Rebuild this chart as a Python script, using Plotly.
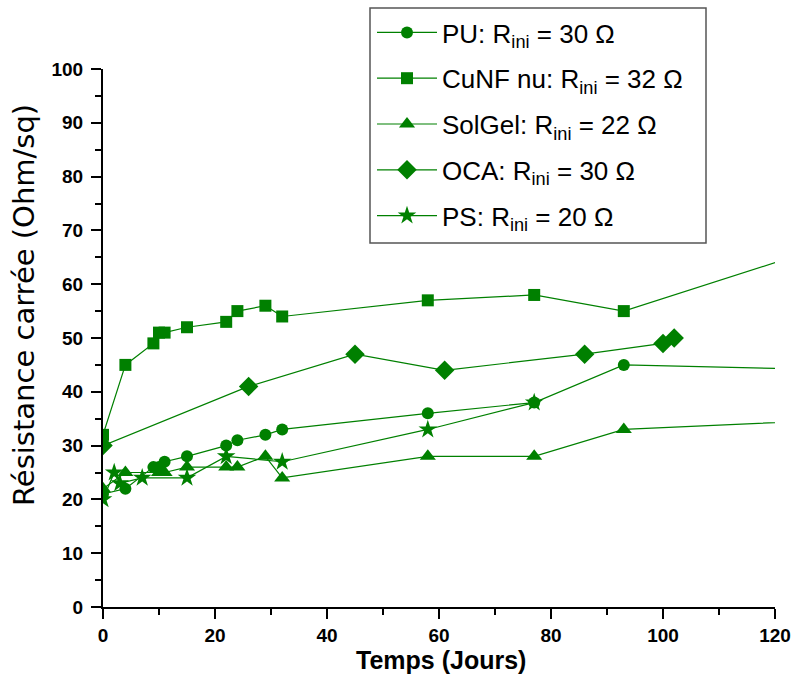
import plotly.graph_objects as go

# ---- data ----
pu_x = [0, 4, 9, 10, 11, 15, 22, 24, 29, 32, 58, 77, 93, 135]
pu_y = [21, 22, 26, 26, 27, 28, 30, 31, 32, 33, 36, 38, 45, 44]

cunf_x = [0, 4, 9, 10, 11, 15, 22, 24, 29, 32, 58, 77, 93, 135]
cunf_y = [32, 45, 49, 51, 51, 52, 53, 55, 56, 54, 57, 58, 55, 69]

solgel_x = [0, 4, 10, 11, 15, 22, 24, 29, 32, 58, 77, 93, 135]
solgel_y = [22, 25, 25, 25, 26, 26, 26, 28, 24, 28, 28, 33, 35]

oca_x = [0, 26, 45, 61, 86, 100, 102]
oca_y = [30, 41, 47, 44, 47, 49, 50]

ps_x = [0, 2, 3, 7, 15, 22, 32, 58, 77]
ps_y = [20, 25, 23, 24, 24, 28, 27, 33, 38]

names = [
    "PU: R<sub>ini</sub> = 30 Ω",
    "CuNF nu: R<sub>ini</sub> = 32 Ω",
    "SolGel: R<sub>ini</sub> = 22 Ω",
    "OCA: R<sub>ini</sub> = 30 Ω",
    "PS: R<sub>ini</sub> = 20 Ω",
]
x_ticks = [0, 20, 40, 60, 80, 100, 120]
y_ticks = [0, 10, 20, 30, 40, 50, 60, 70, 80, 90, 100]
x_title = "Temps (Jours)"
y_title = "Résistance carrée (Ohm/sq)"

GREEN = "#008000"
series = [
    (pu_x, pu_y, "circle", 12),
    (cunf_x, cunf_y, "square", 12),
    (solgel_x, solgel_y, "triangle-up", 14),
    (oca_x, oca_y, "diamond", 15),
    (ps_x, ps_y, "star", 14),
]

fig = go.Figure()
for (xs, ys, sym, sz), nm in zip(series, names):
    fig.add_trace(go.Scatter(
        x=xs, y=ys, mode="lines+markers", name=nm, legendgroup=nm,
        line=dict(color=GREEN, width=1.2),
        marker=dict(symbol=sym, size=sz, color=GREEN, line=dict(width=0)),
    ))

FONT = "Liberation Sans, Arial, sans-serif"
W, H = 796, 693
L, R, T, B = 103, 21, 69, 86
pw, ph = W - L - R, H - T - B

def px_x(p):
    return (p - L) / pw

def px_y(p):
    return (H - B - p) / ph

# legend frame (pixel box 370..706 x 8..243)
fig.add_shape(
    type="rect", xref="paper", yref="paper",
    x0=px_x(370), x1=px_x(706), y0=px_y(243), y1=px_y(8),
    line=dict(color="#555555", width=1.5), fillcolor="rgba(0,0,0,0)", layer="above",
)

# axis titles placed as in the reference
fig.add_annotation(
    text=y_title, textangle=-90, xref="paper", yref="paper",
    x=px_x(24), y=px_y(305), xanchor="center", yanchor="middle", showarrow=False,
    font=dict(size=29, family="DejaVu Sans", color="black"),
)
fig.add_annotation(
    text=x_title, xref="paper", yref="paper",
    x=px_x(441), y=px_y(660), xanchor="center", yanchor="middle", showarrow=False,
    font=dict(size=25, family=FONT, color="black", weight="bold"),
)

fig.update_layout(
    width=W, height=H,
    margin=dict(l=L, r=R, t=T, b=B, autoexpand=False),
    paper_bgcolor="white", plot_bgcolor="white",
    font=dict(family=FONT, color="black"),
    showlegend=True,
    legend=dict(
        x=px_x(372), y=px_y(9), xanchor="left", yanchor="top",
        bgcolor="rgba(0,0,0,0)", borderwidth=0,
        font=dict(size=26, family=FONT, color="black"),
        itemwidth=60, tracegroupgap=9, traceorder="grouped",
    ),
)
fig.update_xaxes(
    range=[0, 120], tickvals=x_ticks, ticktext=[str(v) for v in x_ticks],
    automargin=False,
    showgrid=False, zeroline=False,
    showline=True, linecolor="black", linewidth=2,
    ticks="outside", ticklen=10, tickwidth=2, tickcolor="black",
    minor=dict(ticks="outside", ticklen=6, tickwidth=2, tickcolor="black", dtick=10, showgrid=False),
    tickfont=dict(size=19, family=FONT, weight="bold"),
)
fig.update_yaxes(
    range=[0, 100], tickvals=y_ticks, ticktext=[str(v) for v in y_ticks],
    automargin=False,
    showgrid=False, zeroline=False,
    showline=True, linecolor="black", linewidth=2,
    ticks="outside", ticklen=10, tickwidth=2, tickcolor="black",
    minor=dict(ticks="outside", ticklen=6, tickwidth=2, tickcolor="black", dtick=5, showgrid=False),
    tickfont=dict(size=19, family=FONT, weight="bold"),
    ticklabelstandoff=4,
)

fig.write_html("out.html", config={"displayModeBar": False},
               post_script="document.body.style.margin='0px';")
